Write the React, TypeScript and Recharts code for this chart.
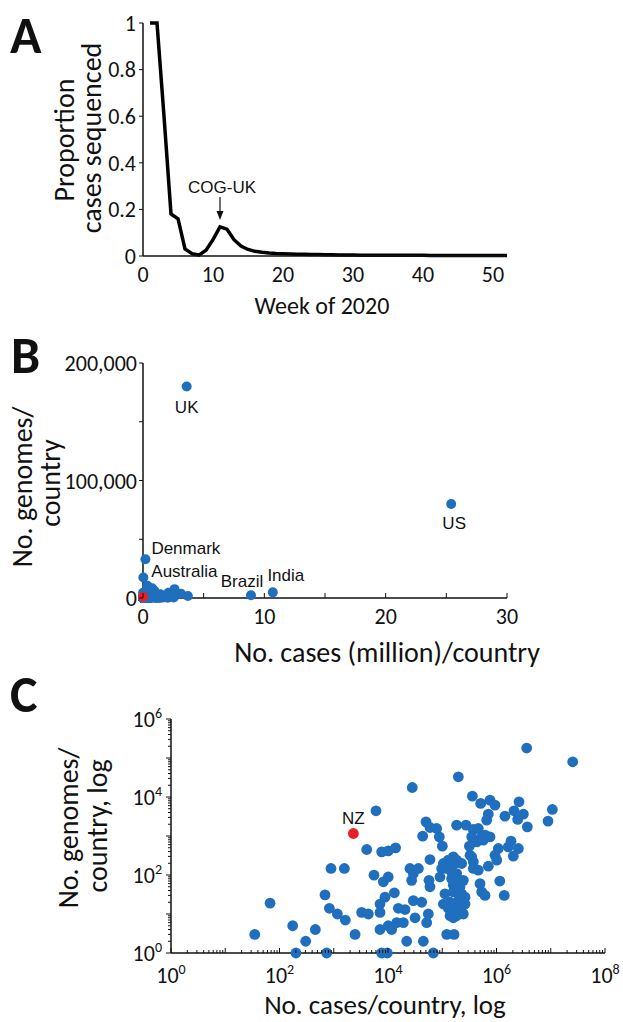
import React from "react";
import { LineChart, Line, XAxis, YAxis, ScatterChart, Scatter, ReferenceDot } from "recharts";

// ---- panel A: proportion of cases sequenced per week ----
const weekNumbers = [
  1, 2, 3, 4, 5, 6, 7, 8, 9, 10, 11, 12, 13, 14, 15, 16, 17, 18, 19, 20, 21, 22, 23, 24, 25, 26,
  27, 28, 29, 30, 31, 32, 33, 34, 35, 36, 37, 38, 39, 40, 41, 42, 43, 44, 45, 46, 47, 48, 49, 50, 51, 52,
];
const proportionSequenced = [
  1.0, 1.0, 0.6, 0.18, 0.16, 0.03, 0.01, 0.004, 0.025, 0.07, 0.125, 0.115, 0.07, 0.043, 0.028, 0.02,
  0.016, 0.013, 0.011, 0.01, 0.009, 0.008, 0.007, 0.006, 0.006, 0.005, 0.005, 0.004, 0.004, 0.004,
  0.003, 0.003, 0.003, 0.003, 0.003, 0.003, 0.003, 0.003, 0.003, 0.003, 0.002, 0.002, 0.002, 0.002,
  0.002, 0.002, 0.002, 0.002, 0.002, 0.002, 0.002, 0.002,
];
const aTicksX = [0, 10, 20, 30, 40, 50];
const aTicksY = [0, 0.2, 0.4, 0.6, 0.8, 1];

// ---- panels B and C: cases vs genomes per country ----
const namedCountries = ["UK", "US", "Denmark", "Australia", "Brazil", "India", "NZ"];
const namedCases = [3600000, 25400000, 198000, 28000, 8900000, 10700000, 2300];
const namedGenomes = [180000, 80000, 33000, 17500, 2410, 4790, 1160];

const otherCases = [
  890, 1570, 67, 690, 830, 1165, 1635, 175, 458, 35, 304, 201, 740, 2470,
  6010, 50200, 59400, 43600, 4050, 7640, 10100, 13800, 59400, 25400, 36300, 29300, 27300, 5520,
  10100, 8200, 57000, 59400, 13100, 8810, 7120, 29300, 41800, 15500, 20600, 3270, 4340, 7120,
  31500, 55400, 51600, 14500, 19200, 10100, 7120, 11700, 22100, 44800, 7640, 9720, 68500,
  359000, 511000, 759000, 938000, 707000, 659000, 184000, 274000, 78900, 88300, 374000, 462000,
  349000, 533000, 614000, 759000, 431000, 572000, 100400, 316000, 325000, 938000, 160000, 129000,
  184000, 105000, 139000, 172000, 228000, 349000, 374000, 707000, 97500, 121000, 149000, 184000,
  374000, 462000, 149000, 198000, 245000, 90900, 160000, 212000, 497000, 533000, 614000, 1150000,
  112000, 160000, 228000, 263000, 105000, 139000, 198000, 263000, 129000, 172000, 228000, 139000,
  184000, 245000, 160000, 121000, 165000,
  2600000, 1430000, 2100000, 3130000, 2460000, 3700000, 1850000, 2530000, 1650000, 2040000,
  1080000, 1010000, 1390000,
];
const otherGenomes = [
  147, 147, 19, 31, 14, 10, 7, 5, 4, 3, 2, 1, 1, 3,
  4430, 2310, 1650, 991, 450, 392, 416, 497, 249, 147, 147, 109, 73, 99,
  89, 67, 73, 50, 35, 27, 18, 22, 20, 14, 13, 11, 10, 11,
  8, 10, 6, 6, 6, 5, 4, 4, 2, 2, 1, 1, 1,
  10500, 6840, 8320, 6190, 3640, 2550, 1900, 1900, 1560, 953, 1470, 1560,
  953, 953, 1050, 953, 708, 782, 548, 548, 322, 322, 292, 240,
  240, 197, 178, 197, 197, 292, 217, 168, 147, 147, 120, 109,
  147, 133, 81, 73, 73, 89, 55, 50, 60, 37, 30, 70,
  33, 37, 33, 27, 18, 20, 22, 18, 14, 14, 15, 9,
  9, 10, 8, 3, 3,
  7540, 3230, 4430, 3640, 2660, 1720, 737, 478, 527, 304,
  478, 240, 30,
];
const bTicksX = [0, 5, 10, 15, 20, 25, 30];
const bLabelTicksX = [0, 10, 20, 30];
const bTicksY = [0, 50000, 100000, 150000, 200000];
const bLabelTicksY = [0, 100000, 200000];
const cLabelTicksX = [1, 100, 10000, 1000000, 100000000];
const cLabelTicksY = [1, 100, 10000, 1000000];

const bLabelledCountries = ["UK", "US", "Denmark", "Australia", "Brazil", "India"];
const cLabelledCountries = ["NZ"];
const highlightCountry = "NZ";

// label placement relative to the dot (styling only)
const labelPlacement: Record<string, { dx: number; dy: number; anchor: string }> = {
  UK: { dx: 0, dy: 26, anchor: "middle" },
  US: { dx: 3, dy: 25, anchor: "middle" },
  Denmark: { dx: 6, dy: -5, anchor: "start" },
  Australia: { dx: 8, dy: 0, anchor: "start" },
  Brazil: { dx: -9, dy: -8, anchor: "middle" },
  India: { dx: 13, dy: -11, anchor: "middle" },
  NZ: { dx: 0, dy: -9, anchor: "middle" },
};

const FONT = "Carlito, Lato, 'Open Sans', sans-serif";
const ARIAL = "'Liberation Sans', Arial, sans-serif";
const BLUE = "#1f6fbe";
const RED = "#ea2027";
const INK = "#111";
const TICK_SIZE = 22;

const weekData = weekNumbers.map((w, i) => ({ week: w, proportion: proportionSequenced[i] }));

const countries = [
  ...namedCountries.map((name, i) => ({ name, cases: namedCases[i], genomes: namedGenomes[i] })),
  ...otherCases.map((c, i) => ({ name: "", cases: c, genomes: otherGenomes[i] })),
].map((d) => ({ ...d, casesM: d.cases / 1000000 }));
const blueCountries = countries.filter((d) => d.name !== highlightCountry);
const redCountries = countries.filter((d) => d.name === highlightCountry);

// every 1..9 x 10^k between the ends, for the minor ticks of the log axes
const logTicks = (maxExp: number) => {
  const out: number[] = [];
  for (let e = 0; e < maxExp; e++) for (let m = 1; m < 10; m++) out.push(m * Math.pow(10, e));
  out.push(Math.pow(10, maxExp));
  return out;
};

const fmtThousands = (v: number) => v.toLocaleString("en-US");

const Title = (props: any) => {
  const { lines, rotate, size } = props;
  return (
    <g>
      {lines.map((l: any, i: number) => (
        <text
          key={i}
          x={l.x}
          y={l.y}
          textAnchor="middle"
          dominantBaseline="central"
          transform={rotate ? `rotate(-90 ${l.x} ${l.y})` : undefined}
          fontFamily={FONT}
          fontSize={size}
          fill={INK}
        >
          {l.text}
        </text>
      ))}
    </g>
  );
};

const BTickX = (props: any) => {
  const { x, y, payload } = props;
  const v = payload.value;
  return (
    <g>
      <line x1={x} x2={x} y1={y} y2={y - 5} stroke={INK} strokeWidth={1} />
      {bLabelTicksX.includes(v) && (
        <text x={x} y={y + 26} textAnchor="middle" fontFamily={FONT} fontSize={TICK_SIZE} fill={INK}>
          {v}
        </text>
      )}
    </g>
  );
};

const BTickY = (props: any) => {
  const { x, y, payload } = props;
  const v = payload.value;
  return (
    <g>
      <line x1={x} x2={x - 4} y1={y} y2={y} stroke={INK} strokeWidth={1} />
      {bLabelTicksY.includes(v) && (
        <text x={x - 6} y={y + 8} textAnchor="end" fontFamily={FONT} fontSize={TICK_SIZE} fill={INK}>
          {fmtThousands(v)}
        </text>
      )}
    </g>
  );
};

const CTickX = (props: any) => {
  const { x, y, payload } = props;
  const v = payload.value;
  const p = Math.log10(v);
  const decade = Math.abs(p - Math.round(p)) < 1e-9;
  return (
    <g>
      <line x1={x} x2={x} y1={y} y2={y - (decade ? 5 : 3)} stroke={INK} strokeWidth={1} />
      {cLabelTicksX.includes(v) && (
        <text x={x} y={y + 30} textAnchor="middle" fontFamily={FONT} fontSize={TICK_SIZE} fill={INK}>
          10
          <tspan dy={-9} fontSize={14}>
            {Math.round(p)}
          </tspan>
        </text>
      )}
    </g>
  );
};

const CTickY = (props: any) => {
  const { x, y, payload } = props;
  const v = payload.value;
  const p = Math.log10(v);
  const decade = Math.abs(p - Math.round(p)) < 1e-9;
  return (
    <g>
      <line x1={x} x2={x - (decade ? 5 : 3)} y1={y} y2={y} stroke={INK} strokeWidth={1} />
      {cLabelTicksY.includes(v) && (
        <text x={x - 9} y={y + 8} textAnchor="end" fontFamily={FONT} fontSize={TICK_SIZE} fill={INK}>
          10
          <tspan dy={-9} fontSize={14}>
            {Math.round(p)}
          </tspan>
        </text>
      )}
    </g>
  );
};

const makeDot = (color: string, r: number, labelled: string[]) => (props: any) => {
  const { cx, cy, payload } = props;
  const name = payload?.name;
  const place = name && labelled.includes(name) ? labelPlacement[name] : null;
  return (
    <g>
      <circle cx={cx} cy={cy} r={r} fill={color} />
      {place && (
        <text x={cx + place.dx} y={cy + place.dy} textAnchor={place.anchor as any} fontFamily={ARIAL} fontSize={17} fill={INK}>
          {name}
        </text>
      )}
    </g>
  );
};

const CogArrow = (props: any) => {
  const { cx, cy } = props;
  return (
    <g>
      <line x1={cx} x2={cx} y1={cy - 23} y2={cy - 6} stroke={INK} strokeWidth={1.2} />
      <polygon points={`${cx},${cy} ${cx - 3.5},${cy - 9} ${cx + 3.5},${cy - 9}`} fill={INK} />
      <text x={cx + 2} y={cy - 27} textAnchor="middle" fontFamily={ARIAL} fontSize={17} fill={INK}>
        COG-UK
      </text>
    </g>
  );
};

const axisLine = { stroke: INK, strokeWidth: 1.5 };

export default function App() {
  return (
    <div style={{ position: "absolute", left: 0, top: 0, width: 623, height: 1022, background: "#fff", overflow: "hidden" }}>
      {/* A */}
      <div style={{ position: "absolute", left: 0, top: 0 }}>
        <LineChart width={623} height={330} data={weekData} margin={{ top: 23, right: 116, bottom: 30, left: 0 }}>
          <XAxis
            dataKey="week"
            type="number"
            domain={[0, 52]}
            ticks={aTicksX}
            tickLine={false}
            axisLine={axisLine}
            height={44}
            tickSize={6}
            tickMargin={4}
            tick={{ fontSize: TICK_SIZE, fill: INK, fontFamily: FONT }}
            label={<Title size={24} lines={[{ text: "Week of 2020", x: 322, y: 305 }]} />}
          />
          <YAxis
            type="number"
            domain={[0, 1]}
            ticks={aTicksY}
            width={143}
            tickSize={4}
            tickMargin={3}
            tickLine={{ stroke: INK }}
            axisLine={axisLine}
            tick={{ fontSize: TICK_SIZE, fill: INK, fontFamily: FONT }}
            tickFormatter={(v: number) => String(v)}
            label={
              <Title
                size={28}
                rotate
                lines={[
                  { text: "Proportion", x: 64, y: 140 },
                  { text: "cases sequenced", x: 91, y: 138 },
                ]}
              />
            }
          />
          <Line type="linear" dataKey="proportion" stroke="#000" strokeWidth={3.5} dot={false} isAnimationActive={false} />
          <ReferenceDot x={11} y={0.155} r={0} shape={CogArrow} />
        </LineChart>
      </div>

      {/* B */}
      <div style={{ position: "absolute", left: 0, top: 325 }}>
        <ScatterChart width={623} height={350} margin={{ top: 38, right: 116, bottom: 7, left: 0 }}>
          <XAxis
            dataKey="casesM"
            type="number"
            domain={[0, 30]}
            ticks={bTicksX}
            interval={0}
            tickLine={false}
            tickSize={0}
            tickMargin={0}
            axisLine={axisLine}
            height={70}
            tick={<BTickX />}
            label={<Title size={28} lines={[{ text: "No. cases (million)/country", x: 387, y: 327 }]} />}
          />
          <YAxis
            dataKey="genomes"
            type="number"
            domain={[0, 200000]}
            ticks={bTicksY}
            interval={0}
            width={143}
            tickLine={false}
            tickSize={0}
            tickMargin={0}
            axisLine={axisLine}
            tick={<BTickY />}
            label={
              <Title
                size={28}
                rotate
                lines={[
                  { text: "No. genomes/", x: 22, y: 162 },
                  { text: "country", x: 50, y: 158 },
                ]}
              />
            }
          />
          <Scatter data={blueCountries} fill={BLUE} shape={makeDot(BLUE, 5, bLabelledCountries)} isAnimationActive={false} />
          <Scatter data={redCountries} fill={RED} shape={makeDot(RED, 5, bLabelledCountries)} isAnimationActive={false} />
        </ScatterChart>
      </div>

      {/* C */}
      <div style={{ position: "absolute", left: 0, top: 680 }}>
        <ScatterChart width={623} height={342} margin={{ top: 39, right: 18, bottom: 9, left: 0 }}>
          <XAxis
            dataKey="cases"
            type="number"
            scale="log"
            domain={[1, 100000000]}
            ticks={logTicks(8)}
            interval={0}
            tickLine={false}
            tickSize={0}
            tickMargin={0}
            axisLine={axisLine}
            height={60}
            tick={<CTickX />}
            label={<Title size={27} lines={[{ text: "No. cases/country, log", x: 385, y: 324 }]} />}
          />
          <YAxis
            dataKey="genomes"
            type="number"
            scale="log"
            domain={[1, 1000000]}
            ticks={logTicks(6)}
            interval={0}
            width={171}
            tickLine={false}
            tickSize={0}
            tickMargin={0}
            axisLine={axisLine}
            tick={<CTickY />}
            label={
              <Title
                size={28}
                rotate
                lines={[
                  { text: "No. genomes/", x: 68, y: 148 },
                  { text: "country, log", x: 97, y: 146 },
                ]}
              />
            }
          />
          <Scatter data={blueCountries} fill={BLUE} shape={makeDot(BLUE, 5.4, cLabelledCountries)} isAnimationActive={false} />
          <Scatter data={redCountries} fill={RED} shape={makeDot(RED, 5.4, cLabelledCountries)} isAnimationActive={false} />
        </ScatterChart>
      </div>

      <svg width={623} height={1022} style={{ position: "absolute", left: 0, top: 0, pointerEvents: "none" }}>
        <text x={10} y={53} fontFamily={FONT} fontWeight={700} fontSize={52} fill={INK}>A</text>
        <text x={11} y={373} fontFamily={FONT} fontWeight={700} fontSize={52} fill={INK}>B</text>
        <text x={10} y={712} fontFamily={FONT} fontWeight={700} fontSize={52} fill={INK}>C</text>
      </svg>
    </div>
  );
}
